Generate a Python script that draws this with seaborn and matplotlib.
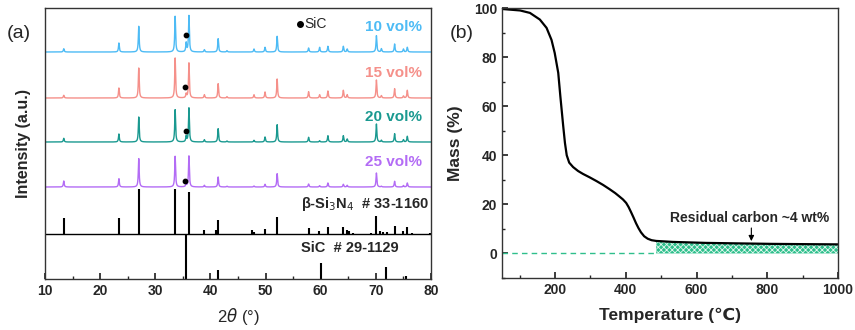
import numpy as np
import pandas as pd
import matplotlib
matplotlib.use("Agg")
import matplotlib.pyplot as plt
import seaborn as sns

sns.set_theme(style="ticks")
plt.rcParams['font.family'] = ['Liberation Sans', 'DejaVu Sans']
plt.rcParams['hatch.linewidth'] = 0.6

# ---------------- Data: XRD (a) ----------------
peak_pos = [13.4, 23.4, 27.0, 33.6, 35.6, 36.1, 38.9, 41.4, 43.0, 47.9, 49.9, 52.1,
            57.8, 59.8, 61.3, 64.1, 64.8, 70.1, 71.0, 73.4, 75.0, 75.7]
h_10 = [3.3, 9.0, 25.7, 35.7, 9.0, 36.3, 2.3, 13.3, 1.3, 3.0, 4.7, 15.7,
        4.0, 4.7, 5.7, 5.7, 3.0, 16.3, 3.3, 8.0, 3.0, 4.7]
h_15 = [2.7, 10.0, 30.0, 40.0, 4.0, 35.0, 3.3, 14.3, 1.3, 3.3, 6.0, 19.0,
        6.3, 3.3, 7.0, 7.7, 3.3, 18.0, 2.3, 9.3, 2.0, 7.7]
h_20 = [3.7, 8.0, 25.0, 32.3, 5.7, 34.0, 2.3, 13.3, 1.0, 1.7, 5.0, 17.3,
        4.7, 1.3, 6.3, 6.3, 3.0, 18.0, 1.7, 8.3, 2.3, 5.7]
h_25 = [6.0, 8.3, 28.4, 30.7, 3.3, 31.0, 1.7, 10.0, 0.8, 1.0, 2.7, 13.3,
        3.0, 1.3, 4.0, 2.7, 1.7, 14.0, 0.7, 5.7, 1.5, 4.0]
samples = ["10 vol%", "15 vol%", "20 vol%", "25 vol%"]
offsets = [227, 181, 137, 92]
colors = ["#4dbbf5", "#f5908a", "#1a9990", "#b36cf5"]
sic_dot_x = [35.6, 35.4, 35.6, 35.4]
sic_dot_y = [17.3, 10.7, 10.6, 6.0]

# Reference sticks
si3n4_pos = [13.4, 23.4, 27.0, 33.6, 36.1, 38.9, 41.1, 41.4, 47.6, 47.9, 49.9, 52.1,
             57.8, 59.6, 61.3, 64.1, 64.8, 65.1, 65.8, 69.2, 70.1, 70.8, 71.3, 72.0,
             73.4, 75.0, 75.7, 76.6, 79.9]
si3n4_h = [15.7, 15.7, 44.7, 44.7, 42.0, 4.3, 4.3, 14.0, 3.7, 2.0, 5.3, 16.7,
           5.7, 3.0, 6.7, 6.7, 4.0, 3.0, 1.3, 1.3, 18.0, 2.7, 2.0, 2.0,
           8.3, 3.0, 7.0, 1.0, 1.0]
sic_pos = [35.6, 41.4, 60.0, 71.8, 75.5]
sic_h = [44.3, 9.3, 16.0, 11.7, 3.3]
si3n4_base = 45
sic_base = 0

# ---------------- Data: TGA (b) ----------------
temp = [50, 101, 129, 157, 176, 190, 199, 209, 215, 223, 228, 233, 240, 251, 265, 279,
        298, 317, 336, 354, 370, 382, 392, 401, 408, 415, 422, 429, 436, 443, 452,
        462, 473, 486, 510, 533, 580, 627, 720, 814, 900, 1000]
mass = [99.6, 99.0, 98.0, 95.3, 91.9, 87.0, 81.7, 73.6, 64.0, 52.0, 45.0, 40.0,
        37.0, 35.2, 33.6, 32.4, 31.0, 29.5, 27.9, 26.2, 24.6, 23.2, 22.0, 20.6,
        18.9, 16.8, 14.6, 12.3, 10.3, 8.6, 7.0, 6.0, 5.4, 5.1, 4.9, 4.7, 4.5, 4.3,
        4.1, 3.9, 3.8, 3.7]
residual_start = 486

fig = plt.figure(figsize=(8.55, 3.3), dpi=100)
axa = fig.add_axes([45/855, 51/330, 386/855, 271/330])
axb = fig.add_axes([502/855, 52/330, 336/855, 270/330])

# ---- panel (a)
grid = np.linspace(10, 80, 7001)
rows = []
for name, off, hs in zip(samples, offsets, [h_10, h_15, h_20, h_25]):
    y = np.full_like(grid, float(off))
    for p, h in zip(peak_pos, hs):
        w = 0.09
        y += h / (1 + ((grid - p) / w) ** 2)
    rows.append(pd.DataFrame({"x": grid, "y": y, "s": name}))
df = pd.concat(rows)
sns.lineplot(data=df, x="x", y="y", hue="s", palette=colors, lw=1.0, ax=axa,
             legend=False, estimator=None, sort=False)
axa.scatter(sic_dot_x, [o + d for o, d in zip(offsets, sic_dot_y)], s=10, color="black", zorder=5)
axa.vlines(si3n4_pos, si3n4_base, [si3n4_base + h for h in si3n4_h], color="black", lw=1.5)
axa.vlines(sic_pos, sic_base, [sic_base + h for h in sic_h], color="black", lw=1.5)
axa.axhline(si3n4_base, color="black", lw=1.0)

for name, off, c in zip(samples, offsets, colors):
    axa.text(78.3, off + 25, name, color=c, fontsize=11, fontweight="bold",
             ha="right", va="center")
axa.scatter([56.3], [255], s=16, color="black")
axa.text(57.1, 255, "SiC", fontsize=10, va="center")
axa.text(56.4, 75, r"β-Si$_3$N$_4$  # 33-1160", fontsize=10.5, fontweight="bold", va="center")
axa.text(56.4, 31, "SiC  # 29-1129", fontsize=10.5, fontweight="bold", va="center")

axa.set_xlim(10, 80)
axa.set_ylim(0, 271)
axa.set_yticks([])
axa.set_xticks(range(10, 81, 10))
axa.set_xticks(range(15, 80, 10), minor=True)
axa.tick_params(axis="x", which="both", direction="in", top=False, labelsize=10)
axa.tick_params(axis="x", which="major", length=4)
axa.tick_params(axis="x", which="minor", length=2.5)
for lbl in axa.get_xticklabels():
    lbl.set_fontweight("bold")
axa.set_xlabel(r"2$\theta$ (°)", fontsize=12, labelpad=6)
axa.set_ylabel("Intensity (a.u.)", fontsize=11.5, fontweight="bold", labelpad=10)
fig.text(7/855, 1 - 33/330, "(a)", fontsize=14, va="center", ha="left")

# ---- panel (b)
tdf = pd.DataFrame({"T": temp, "M": mass})
sns.lineplot(data=tdf, x="T", y="M", color="black", lw=1.6, ax=axb, estimator=None, sort=False)
t_arr = np.array(temp, dtype=float)
m_arr = np.array(mass, dtype=float)
mask = t_arr >= residual_start
axb.fill_between(t_arr[mask], 0, m_arr[mask], facecolor="#2fbf8c", edgecolor="#e0f7ee",
                 hatch="xxxxxx", lw=0, zorder=1)
axb.plot([50, residual_start], [0, 0], ls=(0, (4, 3)), color="#2fbf8c", lw=1.0)
axb.annotate("", xy=(755, 3.9), xytext=(755, 11.5),
             arrowprops=dict(arrowstyle="-|>", color="black", lw=0.8, mutation_scale=8))
axb.text(750, 14.5, "Residual carbon ~4 wt%", fontsize=10, fontweight="bold",
         ha="center", va="center")

axb.set_xlim(50, 1000)
axb.set_ylim(-10, 100)
axb.set_xticks(range(200, 1001, 200))
axb.set_xticks(range(100, 1000, 200), minor=True)
axb.set_yticks(range(0, 101, 20))
axb.set_yticks(range(-10, 100, 20), minor=True)
axb.tick_params(axis="both", which="both", direction="in", labelsize=10)
axb.tick_params(which="major", length=4)
axb.tick_params(which="minor", length=2.5)
for lbl in axb.get_xticklabels() + axb.get_yticklabels():
    lbl.set_fontweight("bold")
axb.set_xlabel("Temperature (℃)", fontsize=12.5, fontweight="bold", labelpad=8)
axb.set_ylabel("Mass (%)", fontsize=12.5, fontweight="bold", labelpad=8)
fig.text(450/855, 1 - 33/330, "(b)", fontsize=14, va="center", ha="left")

for ax in (axa, axb):
    for sp in ax.spines.values():
        sp.set_visible(True)
        sp.set_color("#333333")
        sp.set_linewidth(1.0)

fig.savefig("out.png", dpi=100)
